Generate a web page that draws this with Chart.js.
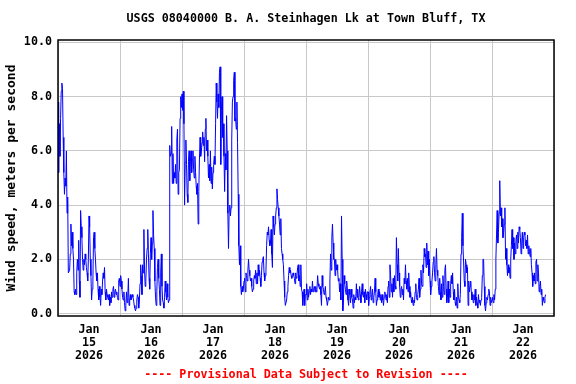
<!DOCTYPE html>
<html>
<head>
<meta charset="utf-8">
<title>USGS 08040000 wind speed</title>
<script src="https://cdn.jsdelivr.net/npm/chart.js@4.4.1/dist/chart.umd.min.js"></script>
<style>
  body { margin: 0; background: #fff; }
  canvas { display: block; }
</style>
</head>
<body>
<canvas id="chart" width="576" height="384"></canvas>
<script>
const chartTitle = 'USGS 08040000 B. A. Steinhagen Lk at Town Bluff, TX';
const yAxisTitle = 'Wind speed, meters per second';
const footerNote = '---- Provisional Data Subject to Revision ----';

const monthLabel = 'Jan';
const yearLabel = '2026';
const dayLabels = ['15', '16', '17', '18', '19', '20', '21', '22'];
const yTicks = [0, 2, 4, 6, 8, 10];

// 15-minute wind speed readings (m/s), one list per day starting at 00:00
const stepHours = 0.25;
const jan15 = [
  7.8, 5.2, 7.0, 5.8, 7.2, 8.2, 8.5, 8.3, 6.5, 5.2,
  4.4, 5.0, 4.7, 6.0, 3.7, 4.3, 1.5, 1.5, 1.6, 2.2,
  3.3, 2.5, 3.0, 2.4, 2.0, 0.8, 0.7, 0.9, 0.7, 1.5,
  2.0, 1.6, 2.7, 1.2, 0.6, 3.8, 3.2, 2.8, 2.0, 1.6,
  2.0, 1.8, 2.2, 2.0, 1.7, 1.5, 1.2, 2.0, 3.6, 3.2,
  2.0, 1.4, 0.5, 0.9, 1.2, 2.8, 3.0, 2.4, 2.0, 1.5,
  1.2, 1.5, 0.9, 0.5, 1.0, 0.6, 0.3, 0.9, 0.7, 1.2,
  1.5, 1.3, 1.7, 0.8, 0.5, 0.9, 0.7, 0.6, 0.5, 0.7,
  0.3, 0.6, 0.4, 0.8, 0.6, 0.9, 1.0, 0.6, 0.8, 0.9,
  0.7, 0.8, 0.6, 0.5, 1.2, 1.3
];
const jan16 = [
  1.0, 1.4, 1.2, 0.9, 0.6, 0.5, 0.8, 0.4, 0.1, 0.3,
  0.8, 0.4, 0.6, 1.3, 0.3, 0.5, 0.7, 0.5, 0.6, 0.7,
  0.6, 0.5, 0.3, 0.2, 0.1, 0.2, 0.5, 0.7, 0.6, 0.2,
  0.5, 1.1, 1.8, 1.4, 0.7, 1.8, 1.5, 3.1, 1.6, 1.0,
  1.2, 2.0, 2.4, 3.1, 2.2, 1.3, 0.9, 2.2, 2.8, 2.0,
  2.6, 3.8, 2.9, 2.4, 1.2, 0.6, 0.3, 0.8, 1.7, 2.0,
  1.3, 0.9, 0.3, 1.5, 2.2, 1.0, 0.5, 0.4, 0.2, 0.6,
  1.2, 0.8, 0.5, 1.1, 0.6, 0.4, 0.5, 6.2, 5.8, 5.9,
  6.9, 4.8, 5.9, 4.8, 5.2, 5.0, 5.5, 4.8, 6.4, 6.8,
  4.4, 5.2, 5.3, 7.2, 8.0, 7.6
];
const jan17 = [
  8.1, 7.5, 8.2, 7.0, 4.0, 5.6, 6.4, 5.5, 4.4, 4.1,
  5.6, 6.0, 4.9, 5.6, 6.0, 5.2, 5.7, 6.0, 5.3, 5.0,
  5.8, 5.2, 4.7, 4.4, 4.8, 3.3, 4.5, 5.7, 6.5, 5.8,
  6.0, 6.3, 6.7, 6.2, 6.5, 5.6, 6.8, 7.2, 6.0, 6.4,
  5.8, 5.0, 5.5, 4.9, 6.0, 4.8, 5.4, 4.6, 5.2, 5.5,
  5.8, 5.5, 7.0, 8.5, 7.8, 7.2, 8.1, 7.6, 8.9, 9.1,
  5.5, 7.5, 8.0, 6.5, 7.0, 5.8, 4.5, 5.9, 5.3, 7.3,
  6.0, 3.7, 2.4, 3.8, 4.0, 3.6, 3.9, 6.4, 7.8, 8.0,
  8.6, 8.9, 7.1, 7.2, 6.8, 7.8, 6.3, 4.4, 2.5, 1.8,
  2.5, 1.0, 0.7, 1.0, 0.8, 0.9
];
const jan18 = [
  1.2, 1.3, 0.8, 1.5, 1.4, 1.2, 1.6, 2.0, 1.6, 1.4,
  1.2, 1.3, 1.0, 0.8, 0.9, 1.2, 1.4, 1.3, 1.6, 1.1,
  1.5, 1.1, 1.8, 1.4, 1.6, 1.3, 1.0, 1.4, 1.9, 2.0,
  2.1, 1.5, 1.2, 1.4, 1.6, 2.5, 3.0, 2.9, 3.2, 2.7,
  2.5, 2.6, 3.1, 2.2, 1.7, 3.6, 3.2, 2.9, 3.3, 3.6,
  3.9, 4.6, 4.2, 3.9, 3.6, 3.3, 2.9, 3.5, 2.4, 2.2,
  2.0, 1.8, 1.2, 0.6, 0.3, 0.3, 0.5, 0.8, 1.0, 1.4,
  1.7, 1.5, 1.6, 1.4, 1.3, 1.4, 1.5, 1.4, 1.3, 1.1,
  1.5, 1.3, 1.4, 1.7, 1.8, 1.2, 1.4, 1.0, 1.8, 0.9,
  0.8, 0.3, 0.6, 0.9, 0.3, 0.7
];
const jan19 = [
  0.7, 1.1, 0.5, 0.9, 0.6, 0.8, 1.0, 0.7, 0.9, 0.8,
  1.2, 0.8, 0.9, 1.0, 0.8, 1.0, 0.8, 0.9, 1.4, 1.1,
  1.0, 0.9, 1.0, 0.7, 0.3, 1.4, 1.0, 0.9, 0.7, 0.8,
  1.0, 0.6, 0.5, 0.3, 0.3, 0.6, 0.5, 1.2, 2.2, 1.6,
  2.8, 3.3, 2.6, 2.0, 2.0, 1.4, 2.0, 1.6, 1.8, 1.6,
  1.2, 1.3, 0.8, 1.1, 0.5, 3.6, 2.0, 0.1, 0.5, 1.4,
  1.1, 0.9, 0.7, 1.2, 0.9, 0.5, 0.3, 0.9, 0.7, 0.4,
  0.9, 0.6, 0.5, 0.2, 0.7, 0.4, 0.6, 0.5, 1.1, 0.6,
  0.9, 0.5, 0.6, 1.0, 0.7, 0.4, 0.8, 1.1, 0.7, 0.6,
  0.8, 0.4, 0.9, 0.7, 0.5, 0.8
];
const jan20 = [
  0.8, 0.3, 0.6, 0.8, 1.0, 0.5, 0.7, 0.9, 0.4, 0.6,
  0.8, 1.3, 0.8, 0.3, 0.5, 0.7, 0.9, 0.6, 0.8, 0.5,
  0.7, 0.4, 0.7, 0.5, 0.3, 0.6, 0.8, 0.7, 0.5, 0.7,
  0.4, 1.0, 1.2, 0.6, 1.8, 1.4, 0.8, 1.1, 0.6, 1.3,
  0.8, 1.4, 1.0, 0.9, 2.8, 1.8, 1.2, 2.4, 1.5, 1.0,
  0.6, 0.9, 1.0, 0.7, 0.9, 0.5, 1.3, 1.1, 1.8, 1.2,
  0.9, 1.3, 0.8, 1.5, 1.0, 0.6, 0.8, 0.5, 0.4, 0.6,
  0.3, 0.5, 0.4, 0.8, 1.1, 0.6, 0.5, 0.7, 0.9, 1.3,
  0.6, 0.9, 1.6, 1.1, 1.0, 1.8, 1.5, 2.4, 2.1, 2.2,
  1.7, 2.6, 1.8, 2.3, 1.4, 2.0
];
const jan21 = [
  1.2, 0.7, 1.0, 1.2, 1.5, 1.9, 2.1, 1.5, 1.2, 1.8,
  2.4, 1.6, 1.4, 1.0, 0.7, 1.3, 0.8, 0.5, 1.1, 0.6,
  1.4, 1.0, 0.7, 1.6, 1.8, 0.9, 0.4, 0.6, 1.2, 0.4,
  0.9, 0.6, 1.1, 1.4, 1.1, 1.5, 0.8, 0.5, 0.9, 0.4,
  0.3, 0.6, 0.2, 1.1, 0.6, 0.5, 0.4, 0.7, 2.2, 2.8,
  3.7, 2.5, 1.9, 1.2, 1.0, 2.0, 1.8, 1.5, 1.7, 0.3,
  1.2, 0.8, 1.0, 1.2, 0.8, 0.5, 0.7, 0.4, 0.7, 0.5,
  0.9, 0.3, 0.6, 0.4, 0.2, 0.7, 0.4, 0.5, 0.3, 0.5,
  0.6, 1.4, 2.0, 2.0, 1.0, 0.3, 0.1, 0.4, 0.6, 0.5,
  0.7, 0.9, 0.8, 0.3, 0.6, 0.4
];
const jan22 = [
  0.5, 0.6, 0.4, 0.7, 0.5, 0.9, 2.0, 2.9, 3.8, 2.6,
  3.0, 3.7, 4.9, 3.6, 3.9, 3.2, 3.5, 2.8, 3.0, 3.3,
  3.9, 2.0, 2.4, 1.8, 1.4, 1.8, 1.5, 1.7, 1.3, 2.0,
  2.5, 3.1, 2.4, 2.8, 2.0, 2.6, 2.2, 2.7, 2.9, 2.4,
  3.0, 2.6, 3.2, 3.1, 2.8, 2.2, 2.6, 3.0, 2.4, 2.8,
  3.0, 2.9, 2.5, 2.7, 2.4, 2.9, 2.2, 2.5, 2.3, 2.1,
  2.4, 1.8, 1.5, 1.0, 1.4, 1.2, 1.5, 1.1, 1.9, 2.0,
  1.2, 1.8, 1.5, 0.8, 1.0, 1.2, 0.7, 0.9, 0.3, 0.6,
  0.5, 0.4, 0.6, 0.7
];
const dailyReadings = [jan15, jan16, jan17, jan18, jan19, jan20, jan21, jan22];

const FONT_FAMILY = "'DejaVu Sans Mono', 'Liberation Mono', monospace";
const FONT_SIZE = 11.7;

const points = [];
dailyReadings.forEach((day, d) => {
  day.forEach((v, j) => points.push({ x: d * 24 + j * stepHours, y: v }));
});

// frame, title, y title and footer
const decorations = {
  id: 'decorations',
  afterDraw(chart) {
    const { ctx, chartArea } = chart;
    const midX = (chartArea.left + chartArea.right) / 2;
    ctx.save();
    ctx.strokeStyle = '#000';
    ctx.lineWidth = 1.5;
    ctx.strokeRect(chartArea.left, chartArea.top, chartArea.right - chartArea.left, chartArea.bottom - chartArea.top);

    ctx.font = `bold ${FONT_SIZE}px ${FONT_FAMILY}`;
    ctx.textAlign = 'center';
    ctx.textBaseline = 'middle';
    ctx.fillStyle = '#000';
    ctx.fillText(chartTitle, midX, 19);

    ctx.fillStyle = '#ff0000';
    ctx.fillText(footerNote, midX, 375);

    ctx.fillStyle = '#000';
    ctx.font = `bold 13px ${FONT_FAMILY}`;
    ctx.translate(12, (chartArea.top + chartArea.bottom) / 2);
    ctx.rotate(-Math.PI / 2);
    ctx.fillText(yAxisTitle, 0, 0);
    ctx.restore();
  }
};

new Chart(document.getElementById('chart'), {
  type: 'line',
  data: {
    datasets: [{
      data: points,
      borderColor: '#0000ff',
      borderWidth: 1,
      pointRadius: 0,
      tension: 0,
      fill: false
    }]
  },
  options: {
    responsive: false,
    animation: false,
    layout: { padding: { top: 40, right: 22, left: 0, bottom: 0 } },
    plugins: {
      legend: { display: false },
      tooltip: { enabled: false }
    },
    scales: {
      x: {
        type: 'linear',
        min: 0,
        max: dayLabels.length * 24,
        afterBuildTicks: (scale) => {
          const ticks = [];
          for (let h = 0; h <= dayLabels.length * 24; h += 12) ticks.push({ value: h });
          scale.ticks = ticks;
        },
        afterFit: (scale) => { scale.height = 68; },
        grid: {
          color: (c) => (c.tick && c.tick.value % 24 === 0 ? '#c8c8c8' : 'rgba(0,0,0,0)'),
          lineWidth: 1,
          drawTicks: false
        },
        border: { display: false },
        ticks: {
          autoSkip: false,
          maxRotation: 0,
          padding: 8,
          color: '#000',
          font: { family: FONT_FAMILY, size: FONT_SIZE, weight: 'bold', lineHeight: 1.1 },
          callback: (value) => {
            if (value % 24 !== 12) return '';
            const day = dayLabels[Math.floor(value / 24)];
            return [monthLabel, day, yearLabel];
          }
        }
      },
      y: {
        min: -0.09,
        max: 10.09,
        afterBuildTicks: (scale) => { scale.ticks = yTicks.map((v) => ({ value: v })); },
        afterFit: (scale) => { scale.width = 58; },
        grid: { color: '#c8c8c8', lineWidth: 1, drawTicks: false },
        border: { display: false },
        ticks: {
          padding: 6,
          color: '#000',
          font: { family: FONT_FAMILY, size: FONT_SIZE, weight: 'bold' },
          callback: (value) => value.toFixed(1)
        }
      }
    }
  },
  plugins: [decorations]
});
</script>
</body>
</html>
